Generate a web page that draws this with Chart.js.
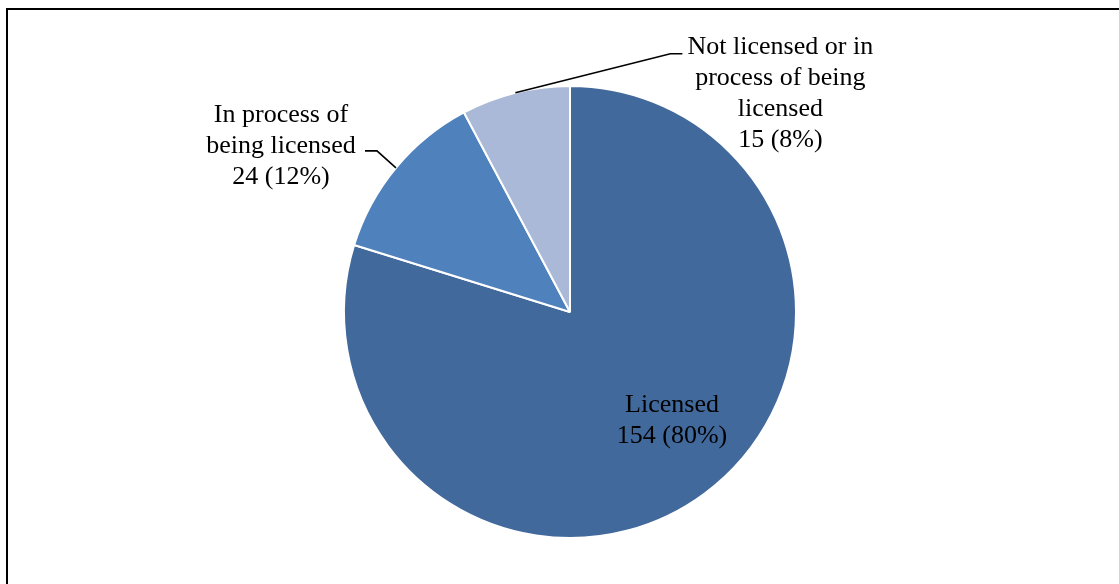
<!DOCTYPE html>
<html>
<head>
<meta charset="utf-8">
<script src="https://cdn.jsdelivr.net/npm/chart.js@4/dist/chart.umd.min.js"></script>
<style>
  body { margin: 0; background: #fff; overflow: hidden; }
  canvas { display: block; }
</style>
</head>
<body>
<canvas id="licensePie" width="1119" height="584"></canvas>
<script>
const categories = [
    ['Licensed'],
    ['In process of', 'being licensed'],
    ['Not licensed or in', 'process of being', 'licensed']
];
const counts = [154, 24, 15];
const sliceColors = ['#41699C', '#4F81BD', '#AAB9D7'];

const total = counts.reduce((a, b) => a + b, 0);

// where each label goes, relative to its slice
const labelPlacement = [
    { inside: true, text: [35, 18] },
    { leader: [[-19, -17], [-31, -17]], text: [-115, -22] },
    { leader: [[155, -39], [167, -39]], text: [265, 1] }
];

const pieLabels = {
    id: 'pieLabels',
    beforeDraw(chart) {
        const ctx = chart.ctx;
        ctx.save();
        ctx.fillStyle = '#000';
        ctx.fillRect(6, 8, 2, chart.height);
        ctx.fillRect(6, 8, chart.width, 2);
        ctx.restore();
    },
    afterDraw(chart) {
        const ctx = chart.ctx;
        const arcs = chart.getDatasetMeta(0).data;
        ctx.save();
        ctx.font = '26px "Liberation Serif", "Times New Roman", serif';
        ctx.fillStyle = '#000';
        ctx.strokeStyle = '#000';
        ctx.lineWidth = 1.6;
        ctx.textAlign = 'center';
        ctx.textBaseline = 'middle';
        arcs.forEach((arc, i) => {
            const place = labelPlacement[i];
            const lines = categories[i].concat(counts[i] + ' (' + Math.round(counts[i] / total * 100) + '%)');
            let ax, ay;
            if (place.inside) {
                const p = arc.tooltipPosition();
                ax = p.x; ay = p.y;
            } else {
                const mid = (arc.startAngle + arc.endAngle) / 2;
                ax = arc.x + Math.cos(mid) * arc.outerRadius;
                ay = arc.y + Math.sin(mid) * arc.outerRadius;
                ctx.beginPath();
                ctx.moveTo(ax, ay);
                place.leader.forEach(pt => ctx.lineTo(ax + pt[0], ay + pt[1]));
                ctx.stroke();
            }
            const cx = ax + place.text[0];
            const cy = ay + place.text[1];
            const lh = 31;
            const y0 = cy - (lines.length - 1) * lh / 2;
            lines.forEach((t, k) => ctx.fillText(t, cx, y0 + k * lh));
        });
        ctx.restore();
    }
};

new Chart(document.getElementById('licensePie').getContext('2d'), {
    type: 'pie',
    data: {
        labels: categories.map(l => l.join(' ')),
        datasets: [{
            data: counts,
            backgroundColor: sliceColors,
            borderColor: '#fff',
            borderWidth: 2
        }]
    },
    options: {
        responsive: false,
        animation: false,
        layout: { padding: { top: 85, bottom: 45, left: 200, right: 179 } },
        plugins: {
            legend: { display: false },
            tooltip: { enabled: false }
        }
    },
    plugins: [pieLabels]
});
</script>
</body>
</html>
